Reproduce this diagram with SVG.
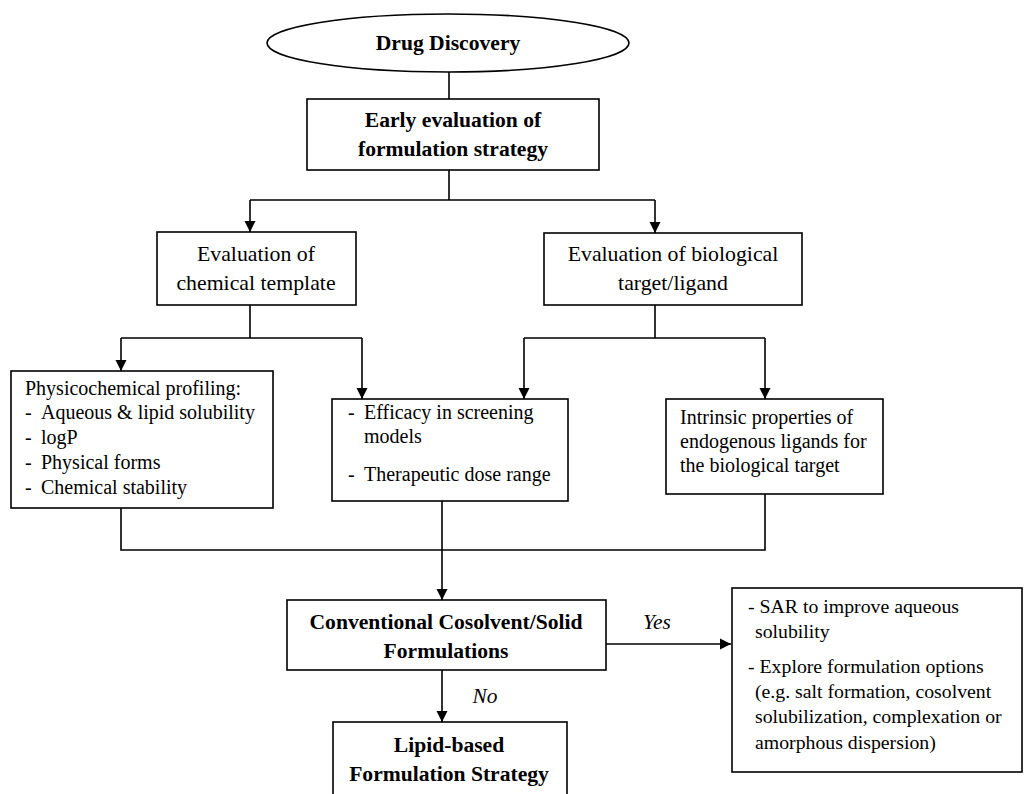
<svg xmlns="http://www.w3.org/2000/svg" width="1024" height="794" viewBox="0 0 1024 794">
<style>
.box{fill:#fff;stroke:#000;stroke-width:1.6}
.ln{fill:none;stroke:#000;stroke-width:1.6}
text{font-family:"Liberation Serif","Times New Roman",serif;fill:#000}
.b{font-weight:bold;font-size:21.6px;text-anchor:middle}
.r{font-size:21.8px;text-anchor:middle}
.t{font-size:20px}
.s{font-size:19.8px}
.i{font-style:italic;font-size:21.4px;text-anchor:middle}
</style>
<defs>
<marker id="ah" markerWidth="12" markerHeight="12" refX="11" refY="6" orient="auto" markerUnits="userSpaceOnUse">
<path d="M0,0.5 L11,6 L0,11.5 Z" fill="#000"/>
</marker>
</defs>
<rect width="1024" height="794" fill="#fff"/>
<g id="connectors">
<path class="ln" d="M449,72 V99"/>
<path class="ln" d="M449,170 V200 M250,200 H655"/>
<path class="ln" d="M250,200 V232" marker-end="url(#ah)"/>
<path class="ln" d="M655,200 V233" marker-end="url(#ah)"/>
<path class="ln" d="M250,305 V338 M121,338 H362"/>
<path class="ln" d="M121,338 V371" marker-end="url(#ah)"/>
<path class="ln" d="M362,338 V399" marker-end="url(#ah)"/>
<path class="ln" d="M655,305 V338 M524,338 H765"/>
<path class="ln" d="M524,338 V399" marker-end="url(#ah)"/>
<path class="ln" d="M765,338 V399" marker-end="url(#ah)"/>
<path class="ln" d="M121,508 V550 H765 V494 M442,501 V550"/>
<path class="ln" d="M442,550 V600" marker-end="url(#ah)"/>
<path class="ln" d="M606,644 H731" marker-end="url(#ah)"/>
<path class="ln" d="M442,670 V722" marker-end="url(#ah)"/>
<text class="i" x="657" y="629">Yes</text>
<text class="i" x="485" y="703">No</text>
</g>
<g id="drug-discovery">
<ellipse class="box" cx="448" cy="43" rx="181" ry="29"/>
<text class="b" x="448" y="50">Drug Discovery</text>
</g>
<g id="early-evaluation">
<rect class="box" x="307" y="99" width="292" height="71"/>
<text class="b" x="453" y="127">Early evaluation of</text>
<text class="b" x="453" y="156">formulation strategy</text>
</g>
<g id="chemical-template">
<rect class="box" x="157" y="232" width="199" height="73"/>
<text class="r" x="256" y="261">Evaluation of</text>
<text class="r" x="256" y="290">chemical template</text>
</g>
<g id="biological-target">
<rect class="box" x="544" y="233" width="258" height="72"/>
<text class="r" x="673" y="261">Evaluation of biological</text>
<text class="r" x="673" y="290">target/ligand</text>
</g>
<g id="physicochemical">
<rect class="box" x="11" y="371" width="262" height="137"/>
<text class="t" x="25" y="395">Physicochemical profiling:</text>
<text class="t" x="25" y="419">-</text><text class="t" x="41" y="419">Aqueous &amp; lipid solubility</text>
<text class="t" x="25" y="444">-</text><text class="t" x="41" y="444">logP</text>
<text class="t" x="25" y="469">-</text><text class="t" x="41" y="469">Physical forms</text>
<text class="t" x="25" y="494">-</text><text class="t" x="41" y="494">Chemical stability</text>
</g>
<g id="efficacy">
<rect class="box" x="332" y="399" width="236" height="102"/>
<text class="t" x="348" y="419">-</text><text class="t" x="364" y="419">Efficacy in screening</text>
<text class="t" x="364" y="443">models</text>
<text class="t" x="348" y="481">-</text><text class="t" x="364" y="481">Therapeutic dose range</text>
</g>
<g id="intrinsic">
<rect class="box" x="666" y="399" width="217" height="95"/>
<text class="t" x="680" y="424">Intrinsic properties of</text>
<text class="t" x="680" y="448">endogenous ligands for</text>
<text class="t" x="680" y="472">the biological target</text>
</g>
<g id="conventional">
<rect class="box" x="287" y="600" width="319" height="70"/>
<text class="b" x="446" y="629">Conventional Cosolvent/Solid</text>
<text class="b" x="446" y="658">Formulations</text>
</g>
<g id="lipid-based">
<rect class="box" x="333" y="722" width="234" height="80"/>
<text class="b" x="449" y="752">Lipid-based</text>
<text class="b" x="449" y="781">Formulation Strategy</text>
</g>
<g id="sar-options">
<rect class="box" x="732" y="588" width="290" height="184"/>
<text class="s" x="748" y="613">- SAR to improve aqueous</text>
<text class="s" x="755" y="638">solubility</text>
<text class="s" x="748" y="673">- Explore formulation options</text>
<text class="s" x="755" y="698">(e.g. salt formation, cosolvent</text>
<text class="s" x="755" y="723">solubilization, complexation or</text>
<text class="s" x="755" y="749">amorphous dispersion)</text>
</g>
</svg>
